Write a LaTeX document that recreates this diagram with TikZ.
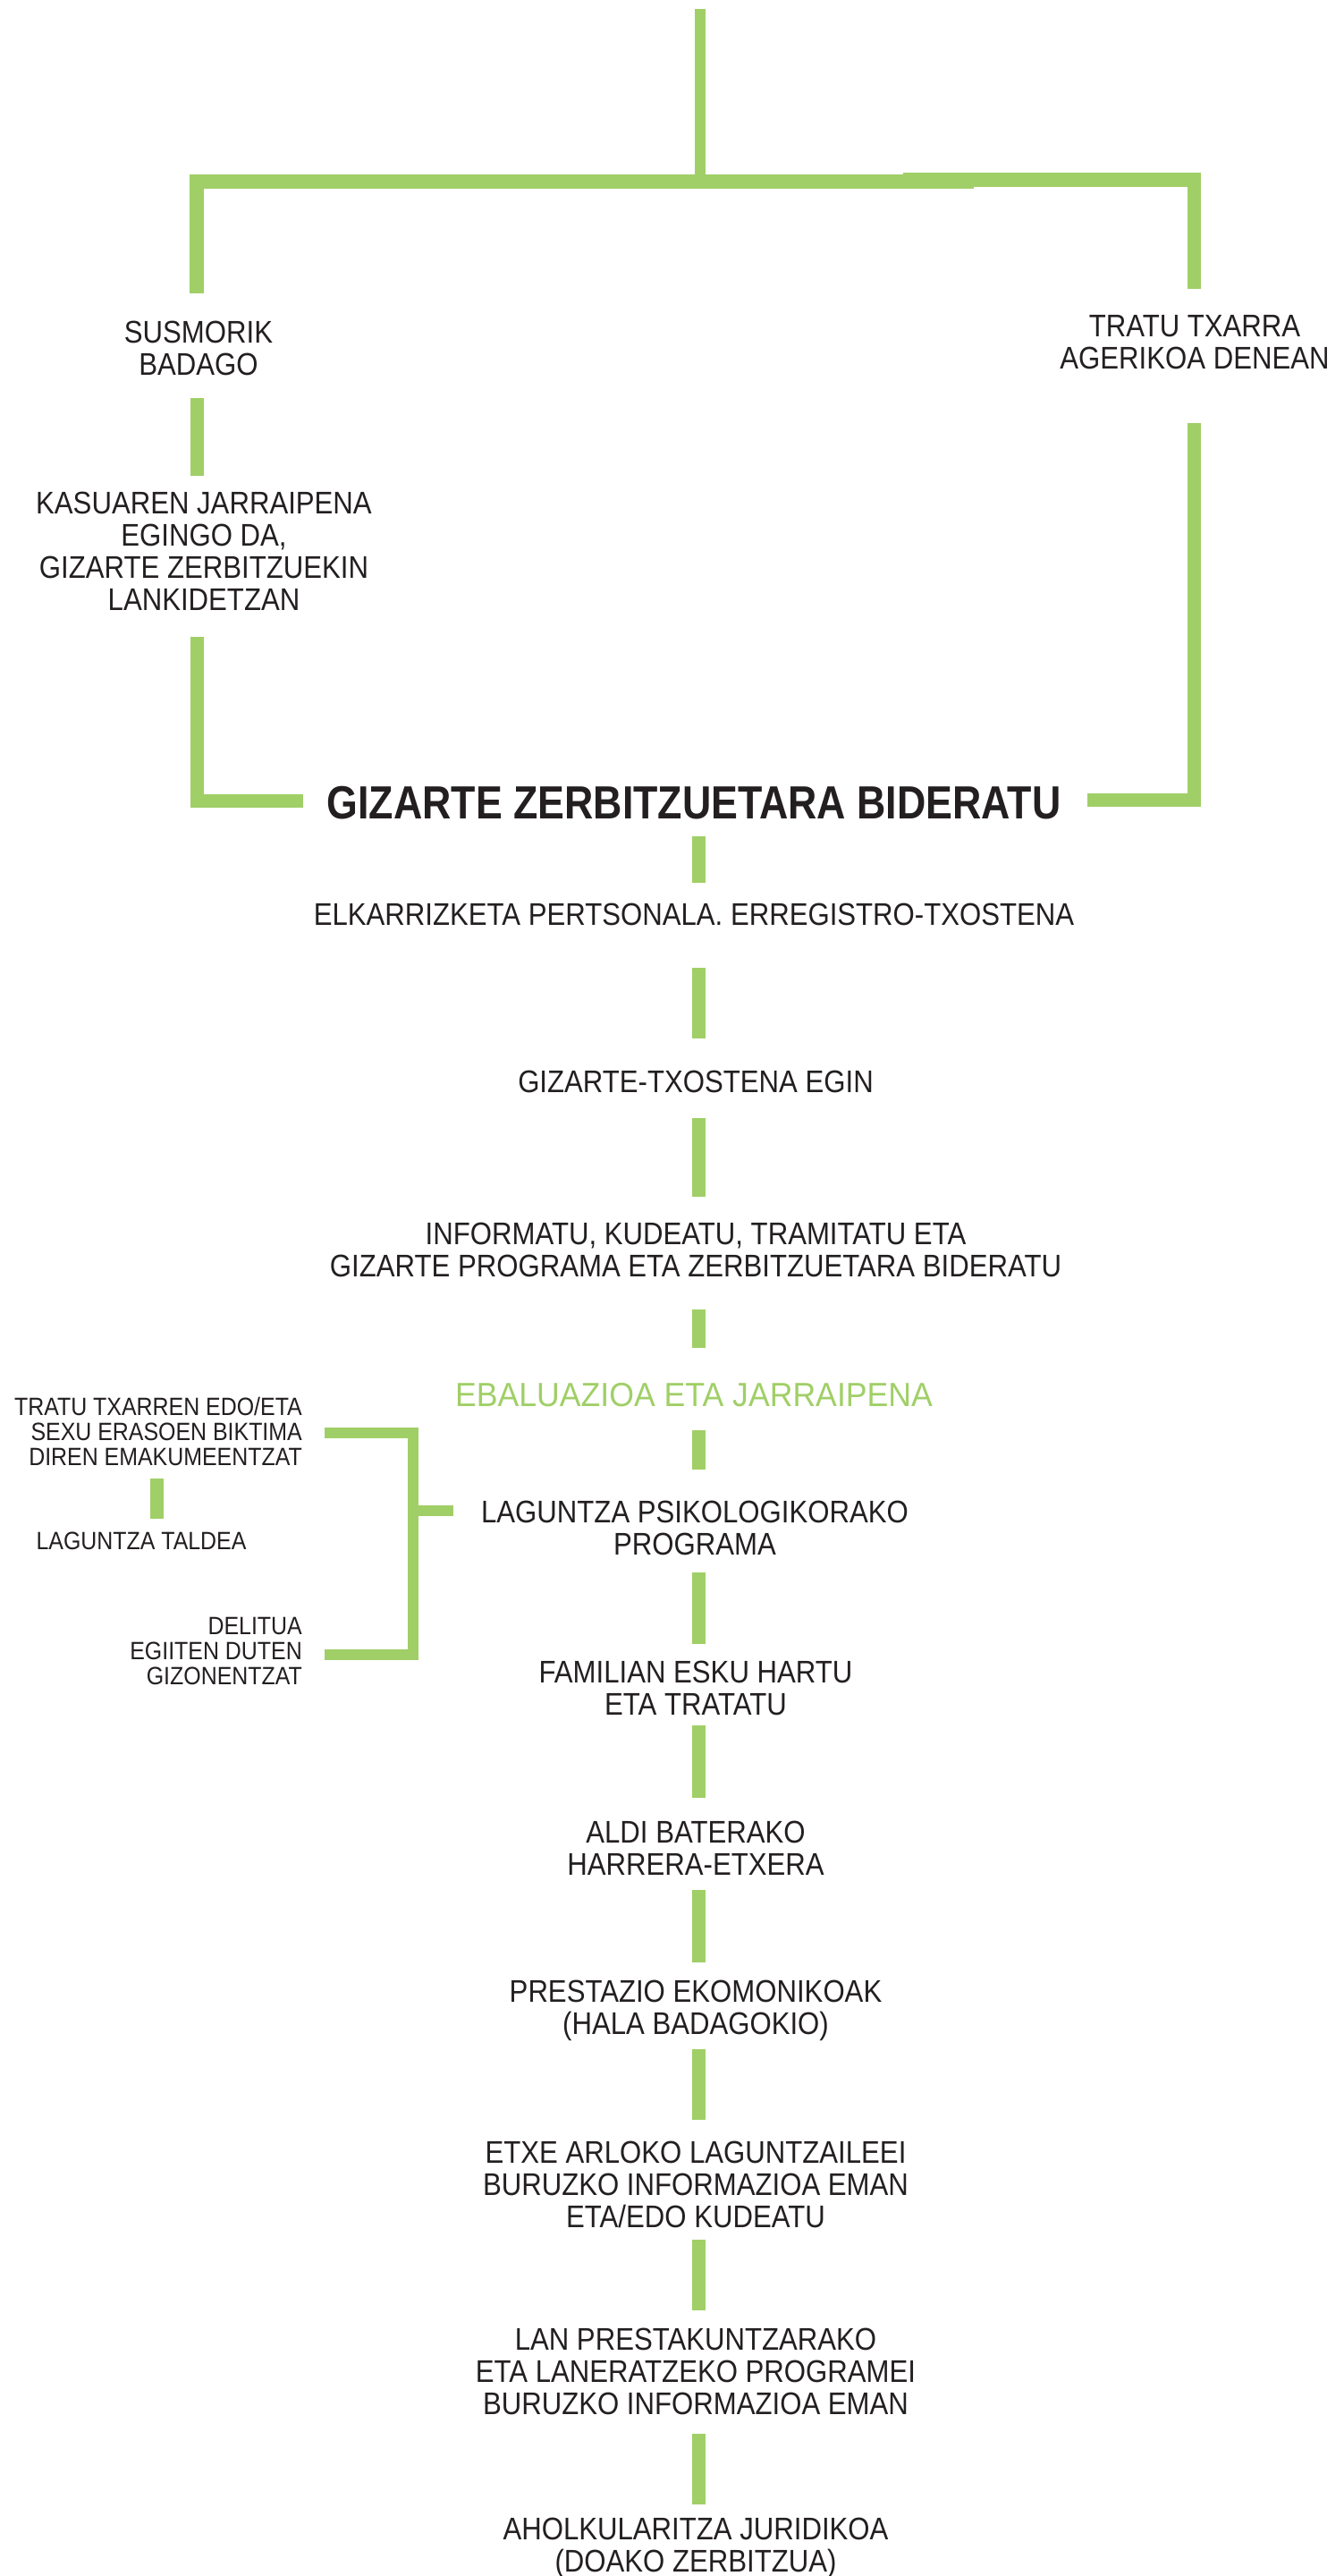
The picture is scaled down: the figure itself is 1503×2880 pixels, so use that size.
\documentclass[tikz,border=0pt]{standalone}
\usepackage{fontspec}
\setmainfont{Liberation Sans}[FakeStretch=0.89]
\newfontfamily\headfont{Liberation Sans}[FakeStretch=0.86]
\newfontfamily\greenfont{Liberation Sans}[FakeStretch=0.95]
\definecolor{lgreen}{RGB}{160,207,103}
\definecolor{ink}{RGB}{35,31,32}
\begin{document}
\begin{tikzpicture}[x=1pt,y=-1pt,
  conn/.style={draw=lgreen,line width=15pt,line cap=butt,line join=miter},
  thinconn/.style={conn,line width=12pt},
  txt/.style={text=ink,font=\fontsize{35}{36}\selectfont,align=center,inner sep=0pt},
  smalltxt/.style={text=ink,font=\fontsize{28}{28}\selectfont,align=right,inner sep=0pt},
  headtxt/.style={text=ink,font=\headfont\bfseries\fontsize{52}{52}\selectfont,inner sep=0pt},
  greentxt/.style={txt,text=lgreen,font=\greenfont\fontsize{37.5}{38}\selectfont}]
\useasboundingbox (0,0) rectangle (1503,2880);
\fill[white] (0,0) rectangle (1503,2880);

% ---- text nodes
\node[txt] (susp) at (222,389) {SUSMORIK\\BADAGO};
\node[txt] (ageri) at (1336,383) {TRATU TXARRA\\AGERIKOA DENEAN};
\node[txt] (kasu) at (228,616) {KASUAREN JARRAIPENA\\EGINGO DA,\\GIZARTE ZERBITZUEKIN\\LANKIDETZAN};
\node[headtxt] (gizarte) at (776,898) {GIZARTE ZERBITZUETARA BIDERATU};
\node[txt] (elkar) at (776,1022) {ELKARRIZKETA PERTSONALA. ERREGISTRO-TXOSTENA};
\node[txt] (txosten) at (778,1209) {GIZARTE-TXOSTENA EGIN};
\node[txt] (inform) at (778,1397) {INFORMATU, KUDEATU, TRAMITATU ETA\\GIZARTE PROGRAMA ETA ZERBITZUETARA BIDERATU};
\node[greentxt] (ebal) at (776,1560) {EBALUAZIOA ETA JARRAIPENA};
\node[txt] (psiko) at (777,1708) {LAGUNTZA PSIKOLOGIKORAKO\\PROGRAMA};
\node[txt] (famil) at (778,1887) {FAMILIAN ESKU HARTU\\ETA TRATATU};
\node[txt] (aldi) at (778,2066) {ALDI BATERAKO\\HARRERA-ETXERA};
\node[txt] (prest) at (778,2248) {PRESTAZIO EKOMONIKOAK\\(HALA BADAGOKIO)};
\node[txt] (etxe) at (778,2442) {ETXE ARLOKO LAGUNTZAILEEI\\BURUZKO INFORMAZIOA EMAN\\ETA/EDO KUDEATU};
\node[txt] (lan) at (778,2651) {LAN PRESTAKUNTZARAKO\\ETA LANERATZEKO PROGRAMEI\\BURUZKO INFORMAZIOA EMAN};
\node[txt] (ahol) at (778,2849) {AHOLKULARITZA JURIDIKOA\\(DOAKO ZERBITZUA)};

\node[smalltxt,anchor=east] (emak) at (338,1600) {TRATU TXARREN EDO/ETA\\SEXU ERASOEN BIKTIMA\\DIREN EMAKUMEENTZAT};
\node[smalltxt,align=center] (taldea) at (158,1723) {LAGUNTZA TALDEA};
\node[smalltxt,anchor=east] (gizon) at (338,1846) {DELITUA\\EGIITEN DUTEN\\GIZONENTZAT};

% ---- connector coordinates
\coordinate (top) at (783,10);
\coordinate (topj) at (783,211);
\coordinate (barL) at (220,203);
\coordinate (barLe) at (1089,203);
\coordinate (barRs) at (1010,201);
\coordinate (barR) at (1335.5,201);
\coordinate (suspN) at (220,328);
\coordinate (ageriN) at (1335.5,323);
\coordinate (suspS) at (220,445);
\coordinate (kasuN) at (220,532);
\coordinate (kasuS) at (220,712);
\coordinate (giL) at (339,895.5);
\coordinate (ageriS) at (1335.5,473);
\coordinate (giR) at (1216,894);

% ---- top tree
\draw[thinconn] (top) -- (topj);
\draw[conn,line width=16pt] (suspN) -- (barL) -- (barLe);
\draw[conn,line width=15.5pt] (barRs) -- (barR) -- (ageriN);
\draw[conn] (suspS) -- (kasuN);
\draw[conn] (kasuS) -- (kasuS |- giL) -- (giL);
\draw[conn] (ageriS) -- (ageriS |- giR) -- (giR);

% ---- main column
\foreach \a/\b [count=\i] in {935/987,1082/1161,1250/1338,1464/1507,1599/1643,1758/1838,1929/2010,2113/2194,2291/2370,2504/2583,2721/2800}{
  \coordinate (s\i) at (781,\a);
  \coordinate (e\i) at (781,\b);
  \draw[conn] (s\i) -- (e\i);
}

% ---- left bracket
\coordinate (brT) at (363,1601.5);
\coordinate (brB) at (363,1850);
\coordinate (brX) at (462,1689);
\coordinate (brS) at (507,1689);
\draw[thinconn] (brT) -- (brT -| brX) -- (brB -| brX) -- (brB);
\draw[thinconn] (brX) -- (brS);
\coordinate (smT) at (175.5,1653);
\coordinate (smB) at (175.5,1698);
\draw[conn] (smT) -- (smB);
\end{tikzpicture}
\end{document}
